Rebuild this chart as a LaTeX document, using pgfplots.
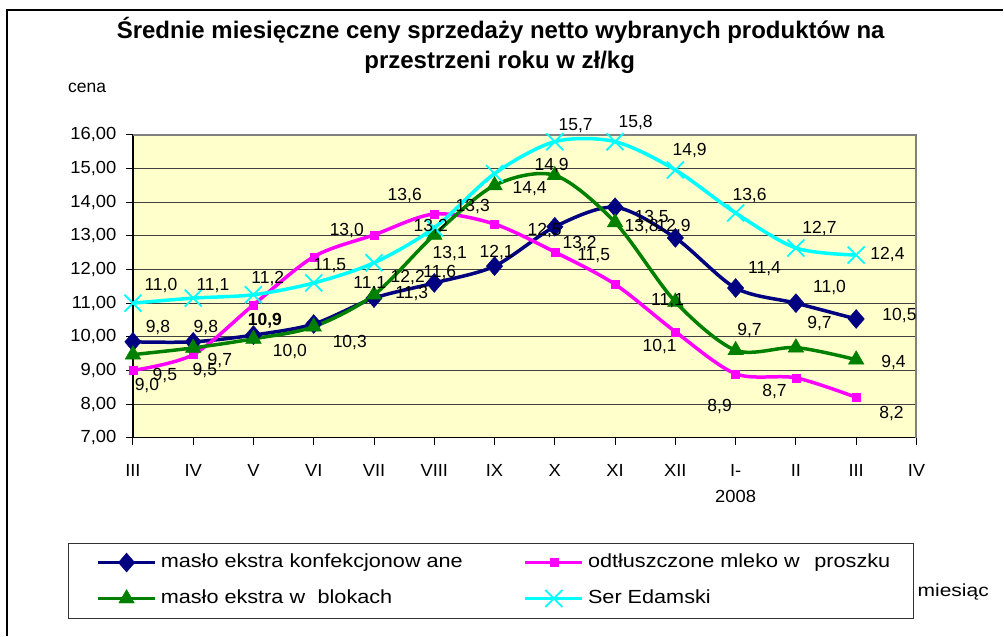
\documentclass[border=0pt]{standalone}
\usepackage{pgfplots}
\pgfplotsset{compat=1.18}
\usepackage{fontspec}
\setmainfont{Liberation Sans}
\definecolor{navyc}{RGB}{0,0,128}
\definecolor{pinkc}{RGB}{255,0,255}
\definecolor{greenc}{RGB}{0,128,0}
\definecolor{cyanc}{RGB}{0,255,255}
\definecolor{plotbg}{RGB}{255,255,204}
\newcommand\fs{\fontsize{17.5}{20}\selectfont}
\newcommand\fl{\fontsize{17.5}{21}\selectfont}
\newcommand\sx[1]{\scalebox{1.05}[1]{#1}}
\newcommand\slx[1]{\scalebox{1.14}[1]{#1}}
\newcommand\lab[3]{\node[font=\fl, inner sep=0pt, anchor=base] at ({#1},{636-#2-6}) {#3};}
\begin{document}
\begin{tikzpicture}[x=1pt,y=1pt]
\path (0,0) rectangle (1004,636);
\draw[black, line width=1.2pt] (7,0) -- (7,626) -- (1004,626);
\node[font=\fontsize{24}{28}\selectfont\bfseries] at (501,{636-30}) {Średnie miesięczne ceny sprzedaży netto  wybranych produktów na};
\node[font=\fontsize{24}{28}\selectfont\bfseries] at (500,{636-62}) {przestrzeni roku w zł/kg};
\node[font=\fs, anchor=west, inner sep=0pt] at (68,{636-88}) {cena};
\node[font=\fs, anchor=west, inner sep=0pt] at (918,{636-592}) {\scalebox{1.2}[1]{miesiąc}};
\begin{axis}[
  at={(133pt,198pt)}, anchor=south west,
  width=784pt, height=303pt, scale only axis,
  xmin=0, xmax=13, ymin=7, ymax=16,
  xtick={0,...,13},
  xticklabels={\sx{III},\sx{IV},\sx{V},\sx{VI},\sx{VII},\sx{VIII},\sx{IX},\sx{X},\sx{XI},\sx{XII},{\sx{I-}\\\sx{2008}},\sx{II},\sx{III},\sx{IV}},
  xticklabel style={font=\fontsize{17.5}{26}\selectfont, align=center, yshift=-16pt},
  ytick={7,...,16},
  yticklabel={\sx{\pgfmathprintnumber{\tick}}},
  yticklabel style={font=\fs, xshift=-6pt},
  /pgf/number format/.cd, fixed, fixed zerofill, precision=2, use comma, assume math mode=true,
  /pgfplots/.cd,
  tick pos=left, tick align=outside, major tick length=7pt,
  tick style={black, line width=1pt},
  ymajorgrids, major grid style={black!75, line width=0.9pt},
  axis background/.style={fill=plotbg},
  axis line style={black, line width=1.2pt},
  clip=false,
  legend columns=2,
  legend style={at={(-0.0829,-0.3465)}, anchor=north west, draw=black!80, line width=0.8pt,
     font=\fontsize{19}{22}\selectfont, inner xsep=28pt, inner ysep=7pt, row sep=11pt,
     nodes={text height=13pt, text depth=4pt, inner xsep=4pt, inner ysep=4pt, anchor=west}},
  /tikz/every even column/.append style={column sep=56pt},
  legend cell align=left,
  legend image code/.code={\draw[#1, mark repeat=2, mark phase=2] plot coordinates {(0pt,0pt) (28.5pt,0pt) (57pt,0pt)};},
]
\addplot[navyc, line width=3.5pt, smooth, mark=diamond*, mark size=9.5pt, mark options={solid, line width=0.4pt, xscale=1.15}]
 coordinates {(0,9.85) (1,9.85) (2,10.05) (3,10.38) (4,11.15) (5,11.6) (6,12.1) (7,13.27) (8,13.85) (9,12.94) (10,11.45) (11,11.0) (12,10.53)};
\addlegendentry{\makebox[303pt][l]{\slx{masło ekstra konfekcjonow ane}}}
\addplot[pinkc, line width=3.5pt, smooth, mark=square*, mark size=4pt, mark options={solid, line width=0.4pt}]
 coordinates {(0,9.0) (1,9.47) (2,10.95) (3,12.38) (4,13.03) (5,13.65) (6,13.35) (7,12.52) (8,11.56) (9,10.15) (10,8.9) (11,8.78) (12,8.2)};
\addlegendentry{\makebox[294pt][l]{\slx{odtłuszczone mleko w\hspace{0.4em} proszku}}}
\addplot[greenc, line width=3.5pt, smooth, mark=triangle*, mark size=9pt, mark options={solid, line width=0.4pt}]
 coordinates {(0,9.47) (1,9.67) (2,9.94) (3,10.3) (4,11.25) (5,13.03) (6,14.5) (7,14.8) (8,13.4) (9,11.04) (10,9.6) (11,9.68) (12,9.32)};
\addlegendentry{\makebox[303pt][l]{\slx{masło ekstra w\hspace{0.3em} blokach}}}
\addplot[cyanc, line width=3.5pt, smooth, mark=x, mark size=12pt, mark options={solid, line width=1.8pt}]
 coordinates {(0,11.0) (1,11.15) (2,11.25) (3,11.6) (4,12.2) (5,13.24) (6,14.85) (7,15.8) (8,15.8) (9,14.96) (10,13.68) (11,12.64) (12,12.43)};
\addlegendentry{\slx{Ser Edamski}}
\draw[gray, line width=2pt] (rel axis cs:0,1) -- (rel axis cs:1,1) -- (rel axis cs:1,0);
\end{axis}
% data labels
\lab{158}{327}{9,8}\lab{206}{327}{9,8}\lab{265}{320}{\bfseries 10,9}\lab{350}{342}{10,3}
\lab{370}{283}{11,1}\lab{440}{272}{11,6}\lab{497}{252}{12,1}\lab{580}{243}{13,2}
\lab{642}{226}{13,8}\lab{674}{226}{12,9}\lab{765}{268}{11,4}\lab{830}{287}{11,0}\lab{900}{315}{10,5}
\lab{165}{375}{9,5}\lab{220}{360}{9,7}\lab{290}{351}{10,0}\lab{412}{293}{11,3}\lab{450}{253}{13,1}
\lab{530}{188}{14,4}\lab{552}{165}{14,9}\lab{652}{217}{13,5}\lab{668}{300}{11,1}\lab{750}{330}{9,7}
\lab{820}{323}{9,7}\lab{894}{362}{9,4}
\lab{147}{385}{9,0}\lab{205}{370}{9,5}\lab{347}{230}{13,0}\lab{405}{195}{13,6}\lab{473}{206}{13,3}
\lab{545}{230}{12,5}\lab{594}{255}{11,5}\lab{660}{346}{10,1}\lab{720}{406}{8,9}\lab{775}{391}{8,7}\lab{892}{413}{8,2}
\lab{161}{285}{11,0}\lab{213}{285}{11,1}\lab{268}{278}{11,2}\lab{330}{265}{11,5}\lab{408}{277}{12,2}
\lab{431}{226}{13,2}\lab{576}{125}{15,7}\lab{636}{122}{15,8}\lab{690}{150}{14,9}\lab{750}{195}{13,6}
\lab{820}{228}{12,7}\lab{888}{254}{12,4}
\end{tikzpicture}
\end{document}
